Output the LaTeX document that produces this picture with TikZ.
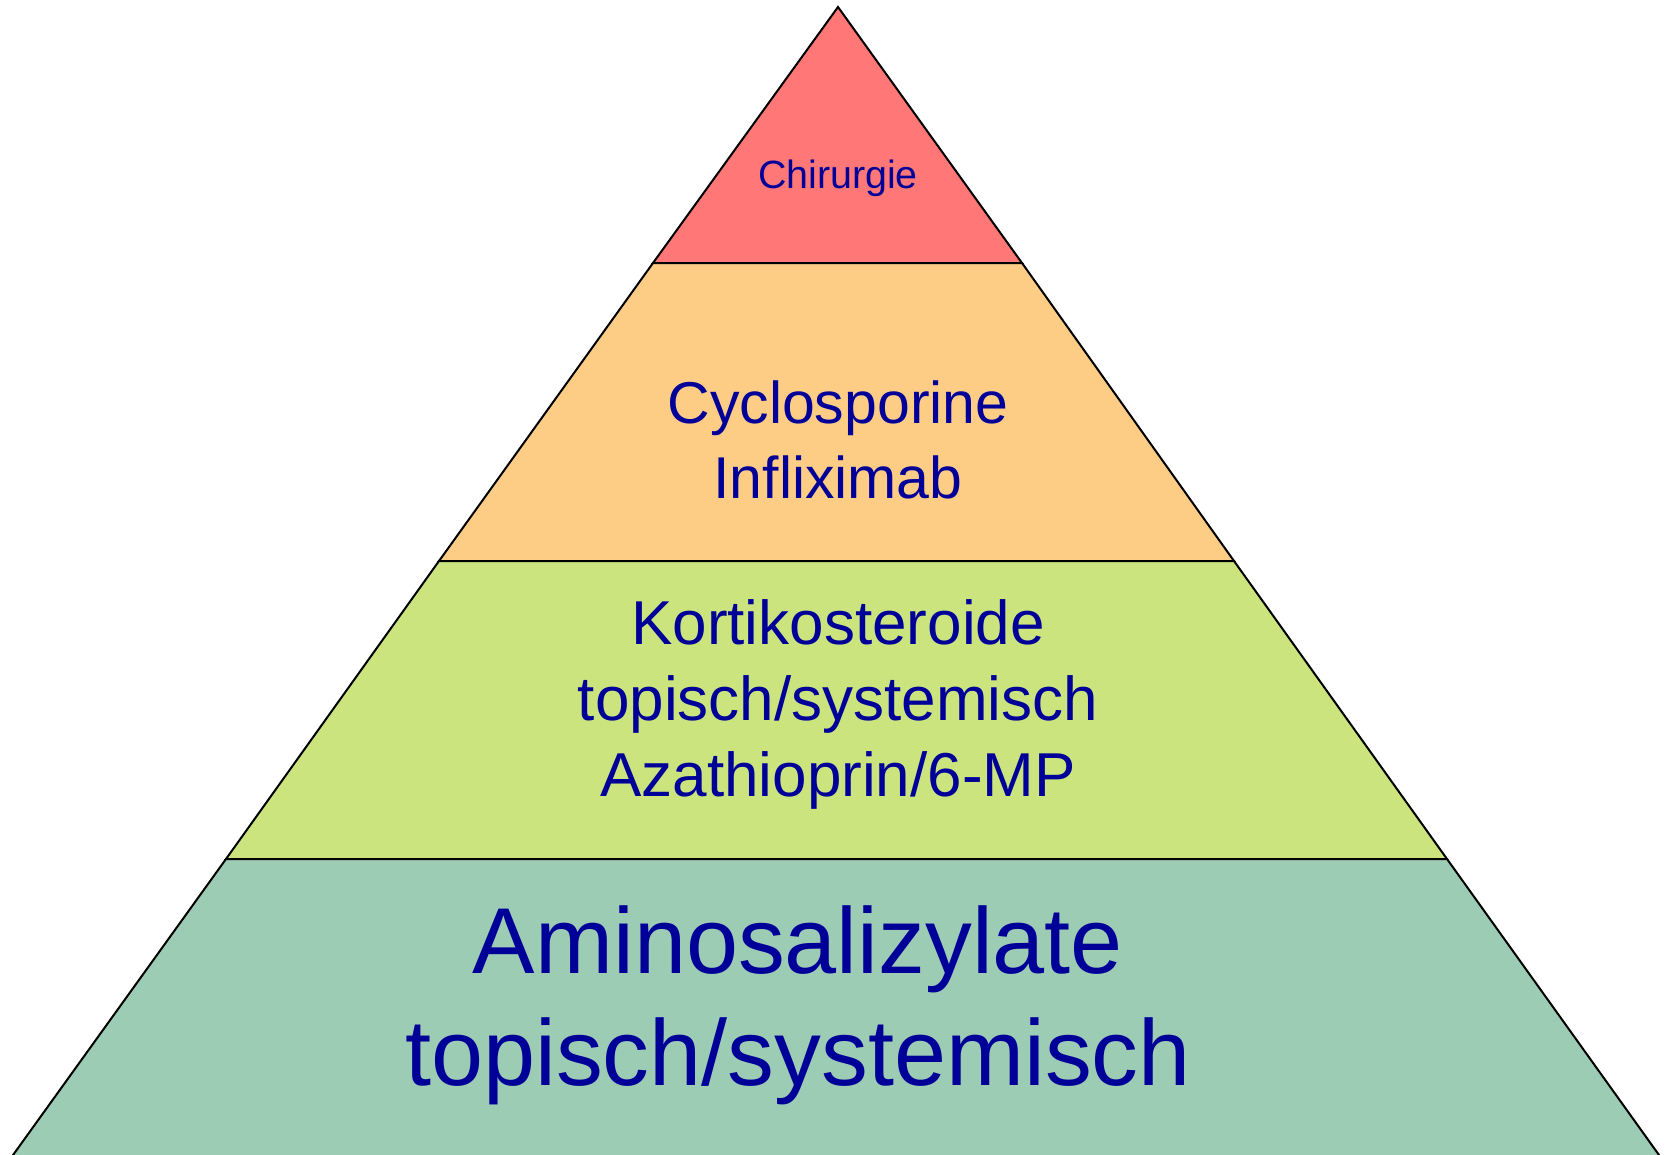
\documentclass[tikz,border=0pt]{standalone}
\usepackage{fontspec}
\setmainfont{Liberation Sans}
\definecolor{redtier}{HTML}{FF7777}
\definecolor{orangetier}{HTML}{FDCD86}
\definecolor{limetier}{HTML}{CCE47E}
\definecolor{greentier}{HTML}{9DCCB4}
\definecolor{labelblue}{HTML}{000099}
\begin{document}
\begin{tikzpicture}
[x=1pt,y=-1pt,
  tierDecorate/.style={draw=black,line width=2pt,line join=miter},%
  labelDecorate/.style={text=labelblue,align=center,inner sep=0pt}]
\useasboundingbox (0,0) rectangle (1668,1154);
\clip (0,0) rectangle (1668,1154);
%% corner points of the levels
\coordinate (top) at (838,7);
\foreach \pointname/\xl/\xr/\y in {
  a/653/1022/263, b/439/1234/561, c/226/1447/859, d/8/1664/1162}
{
  \coordinate (\pointname l) at (\xl,\y);
  \coordinate (\pointname r) at (\xr,\y);
}
%% levels
\filldraw[tierDecorate,fill=redtier] (top) -- (ar) -- (al) -- cycle;
\foreach \upper/\lower/\colour in {a/b/orangetier, b/c/limetier, c/d/greentier}
{
  \filldraw[tierDecorate,fill=\colour] (\upper l) -- (\upper r) -- (\lower r) -- (\lower l) -- cycle;
}
%% labels
\node (chirurgie) at (838,188) [labelDecorate,anchor=base,font=\fontsize{39.4}{48}\selectfont] {Chirurgie};
\node (biologika) at (838,440) [labelDecorate,font=\fontsize{59}{75}\selectfont] {Cyclosporine\\Infliximab};
\node (steroide) at (838,704) [labelDecorate,font=\fontsize{62}{76}\selectfont] {Kortikosteroide\\topisch/systemisch\\Azathioprin/6-MP};
\node (asa) at (798,1005) [labelDecorate,font=\fontsize{93.6}{112}\selectfont] {Aminosalizylate\\topisch/systemisch};
\end{tikzpicture}
\end{document}
